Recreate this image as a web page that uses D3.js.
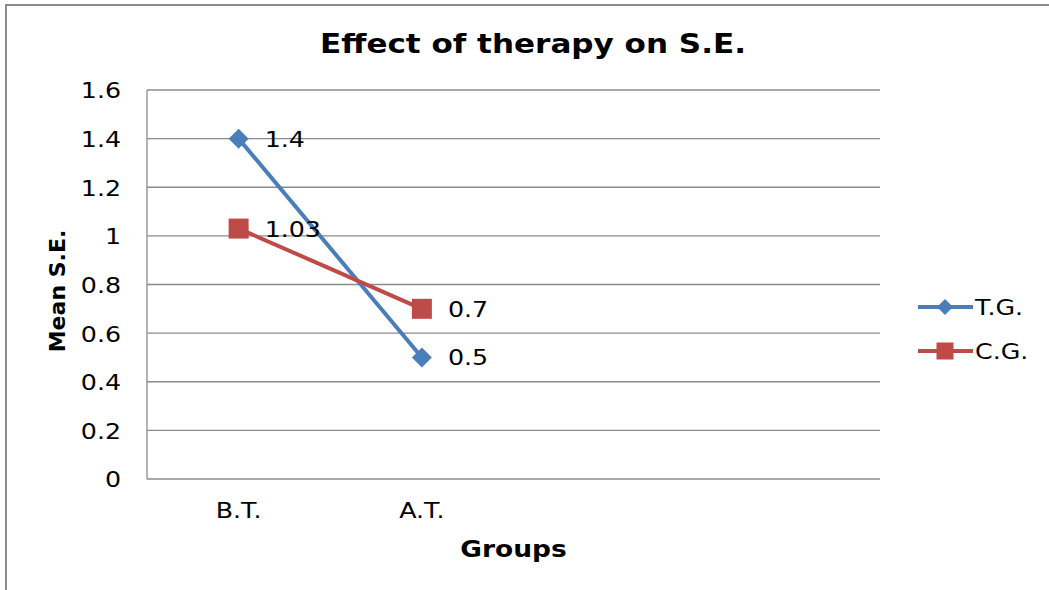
<!DOCTYPE html>
<html>
<head>
<meta charset="utf-8">
<script src="https://cdn.jsdelivr.net/npm/d3@7"></script>
<style>
  body { margin: 0; background: #fff; }
  text { font-family: "DejaVu Sans", Verdana, sans-serif; fill: #000; }
</style>
</head>
<body>
<svg id="chart" width="1049" height="590"></svg>
<script>
// chart data
const groups = ["B.T.", "A.T.", "", ""];
const tgValues = [1.4, 0.5];
const cgValues = [1.03, 0.7];
const yTicks = [0, 0.2, 0.4, 0.6, 0.8, 1, 1.2, 1.4, 1.6];
const seriesNames = ["T.G.", "C.G."];

const svg = d3.select("#chart");
const w = 1049, h = 590;
const margin = {left: 147, right: 169, top: 90, bottom: 111};
const sx = 1.15; // the original text is drawn wide (Verdana look)

// put a text at (px,py) and stretch it horizontally
function wideText(parent, px, py, str, size, bold, anchor) {
  return parent.append("text")
    .attr("transform", `translate(${px},${py}) scale(${sx},1)`)
    .attr("text-anchor", anchor || "start")
    .style("font-size", size + "px")
    .style("font-weight", bold ? "bold" : "normal")
    .text(str);
}

// outer frame
svg.append("rect")
  .attr("x", 6).attr("y", 5)
  .attr("width", w + 10).attr("height", h + 10)
  .attr("fill", "#fff")
  .attr("stroke", "#8c8c8c").attr("stroke-width", 2);

const x = d3.scaleBand().domain(d3.range(groups.length))
  .range([margin.left, w - margin.right]);
const y = d3.scaleLinear().domain([0, 1.6])
  .range([h - margin.bottom, margin.top]);

// gridlines
svg.append("g").selectAll("line").data(yTicks).enter().append("line")
  .attr("x1", margin.left).attr("x2", w - margin.right)
  .attr("y1", d => y(d)).attr("y2", d => y(d))
  .attr("stroke", "#8c8c8c").attr("stroke-width", 1.3);

// plot area left border
svg.append("line")
  .attr("x1", margin.left).attr("x2", margin.left)
  .attr("y1", y(1.6)).attr("y2", y(0))
  .attr("stroke", "#8c8c8c").attr("stroke-width", 1.3);

// y axis
const yAxis = d3.axisLeft(y).tickValues(yTicks).tickSize(0).tickPadding(26)
  .tickFormat(d => d3.format("")(d));
const gy = svg.append("g").attr("transform", `translate(${margin.left},0)`).call(yAxis);
gy.select(".domain").remove();
gy.selectAll("text")
  .style("font-size", "22px").attr("dy", "0.36em")
  .attr("x", null)
  .attr("transform", `translate(-26,0) scale(${sx},1)`);

// x axis
const xAxis = d3.axisBottom(x).tickSize(0).tickPadding(23).tickFormat(i => groups[i]);
const gx = svg.append("g").attr("transform", `translate(0,${y(0)})`).call(xAxis);
gx.select(".domain").remove();
gx.selectAll("text").style("font-size", "22px")
  .attr("transform", `scale(${sx},1)`);

// title
wideText(svg, 533, 53, "Effect of therapy on S.E.", 27, true, "middle");

// axis titles
svg.append("text")
  .attr("transform", "translate(65,291) rotate(-90)")
  .attr("text-anchor", "middle")
  .style("font-size", "22px").style("font-weight", "bold")
  .text("Mean S.E.");

wideText(svg, (margin.left + w - margin.right) / 2, 557, "Groups", 23, true, "middle");

const cx = i => x(i) + x.bandwidth() / 2;
const line = d3.line().x((d, i) => cx(i)).y(d => y(d));

const series = [
  {name: seriesNames[0], values: tgValues, color: "#4a7ebb", marker: "diamond"},
  {name: seriesNames[1], values: cgValues, color: "#be4b48", marker: "square"}
];

function drawMarker(g, s, px, py, r) {
  if (s.marker === "diamond") {
    g.append("path")
      .attr("d", `M${px},${py - r}L${px + r},${py}L${px},${py + r}L${px - r},${py}Z`)
      .attr("fill", s.color);
  } else {
    g.append("rect")
      .attr("x", px - r).attr("y", py - r)
      .attr("width", 2 * r).attr("height", 2 * r)
      .attr("fill", s.color);
  }
}

series.forEach(s => {
  svg.append("path").datum(s.values)
    .attr("d", line)
    .attr("fill", "none")
    .attr("stroke", s.color).attr("stroke-width", 4);
});

series.forEach(s => {
  const g = svg.append("g");
  s.values.forEach((v, i) => drawMarker(g, s, cx(i), y(v), 10));
  s.values.forEach((v, i) => {
    wideText(g, cx(i) + 26, y(v), v, 22, false).attr("dy", "0.36em");
  });
});

// legend
series.forEach((s, i) => {
  const ly = 307 + i * 44;
  const g = svg.append("g");
  g.append("line")
    .attr("x1", 918).attr("x2", 973)
    .attr("y1", ly).attr("y2", ly)
    .attr("stroke", s.color).attr("stroke-width", 4);
  drawMarker(g, s, 945, ly, s.marker === "diamond" ? 8 : 8.5);
  wideText(g, 975, ly, s.name, 22, false).attr("dy", "0.36em");
});
</script>
</body>
</html>
